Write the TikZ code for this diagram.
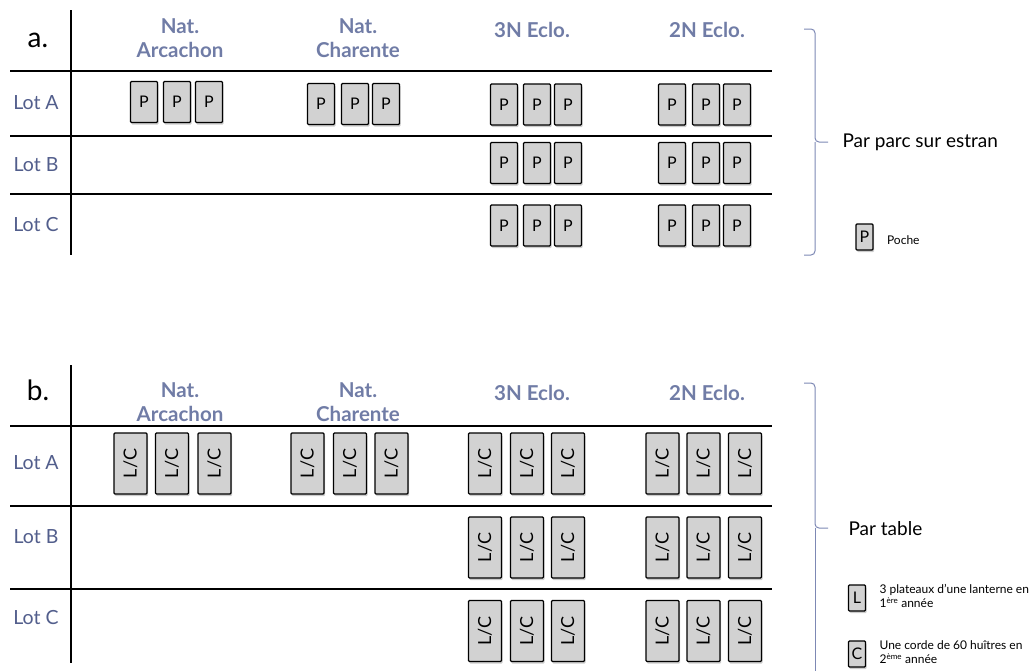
\documentclass[tikz,border=0pt]{standalone}
\usepackage{fontspec}
\setmainfont{Lato}
\usepackage{xcolor}
\usetikzlibrary{positioning, shadows}
\definecolor{slate}{RGB}{112,124,166}
\definecolor{lotblue}{RGB}{82,94,140}
\definecolor{bracecol}{RGB}{125,136,180}

\begin{document}
\begin{tikzpicture}[
    x=1pt, y=-1pt,
    head/.style={font=\fontsize{20.5}{24}\selectfont\bfseries, text=slate, align=center},
    lot/.style={font=\fontsize{19.5}{21}\selectfont, text=lotblue},
    panel/.style={font=\fontsize{28}{30}\selectfont},
    grid/.style={line width=1.2pt},
    poche/.style={draw, fill=gray!35, line width=1.1pt, rounded corners=1pt,
      inner sep=0pt, minimum width=27pt, minimum height=41pt,
      font=\fontsize{16}{16}\selectfont,
      drop shadow={shadow xshift=1pt, shadow yshift=-2pt, opacity=0.4}},
    lc/.style={poche, minimum width=33pt, minimum height=61pt, font=\fontsize{18}{18}\selectfont},
    brace/.style={draw=bracecol, line width=1pt, rounded corners=4pt},
    note/.style={font=\fontsize{19}{21}\selectfont, anchor=west},
    legend/.style={font=\fontsize{12}{14}\selectfont, align=left}
]
\useasboundingbox (0,0) rectangle (1030,670);

% a. par parc sur estran
\node[panel] (a-label) at (38,40) {a.};
\draw[grid] (71,10) -- (71,255);
\foreach \y in {71,136,194} \draw[grid] (10,\y) -- (772,\y);
\node[head] (a-arc) at (180,38) {Nat.\\Arcachon};
\node[head] (a-cha) at (358,38) {Nat.\\Charente};
\node[head] (a-3n) at (532,30) {3N Eclo.};
\node[head] (a-2n) at (707,30) {2N Eclo.};
\node[lot] (a-lotA) at (36,103) {Lot A};
\node[lot] (a-lotB) at (36,165) {Lot B};
\node[lot] (a-lotC) at (36,225) {Lot C};
\foreach \x [count=\i] in {144,177,209} \node[poche] (a-arc-\i) at (\x,102) {P};
\foreach \x [count=\i] in {321,355,386} \node[poche] (a-cha-\i) at (\x,104) {P};
\foreach \r/\y in {A/104.5,B/163,C/225.5} {
  \foreach \x [count=\i] in {504,537,568} \node[poche] (a-3n-\r\i) at (\x,\y) {P};
  \foreach \x [count=\i] in {672,706,737} \node[poche] (a-2n-\r\i) at (\x,\y) {P};
}
\draw[brace] (804,29) -| (815,142) -- (828,142);
\draw[brace] (815,142) |- (804,255);
\node[note] (a-note) at (839,142) {Par parc sur estran};
\node[poche, minimum width=17pt, minimum height=26pt] (a-key) at (864.5,237) {P};
\node[legend, right=10pt of a-key, yshift=-3pt] (a-key-txt) {Poche};

% b. par table
\node[panel] (b-label) at (38,390) {b.};
\draw[grid] (71,365) -- (71,663);
\foreach \y in {426,506,589} \draw[grid] (10,\y) -- (772,\y);
\node[head] (b-arc) at (180,402) {Nat.\\Arcachon};
\node[head] (b-cha) at (358,402) {Nat.\\Charente};
\node[head] (b-3n) at (532,393) {3N Eclo.};
\node[head] (b-2n) at (707,393) {2N Eclo.};
\node[lot] (b-lotA) at (36,463) {Lot A};
\node[lot] (b-lotB) at (36,537) {Lot B};
\node[lot] (b-lotC) at (36,618) {Lot C};
\foreach \x [count=\i] in {130.5,172,214.5} \node[lc] (b-arc-\i) at (\x,463.5) {\rotatebox{90}{L/C}};
\foreach \x [count=\i] in {307.5,350,391.5} \node[lc] (b-cha-\i) at (\x,463.5) {\rotatebox{90}{L/C}};
\foreach \r/\y in {A/463.5,B/547.5,C/631} {
  \foreach \x [count=\i] in {485,527,568} \node[lc] (b-3n-\r\i) at (\x,\y) {\rotatebox{90}{L/C}};
  \foreach \x [count=\i] in {662.5,703.5,745} \node[lc] (b-2n-\r\i) at (\x,\y) {\rotatebox{90}{L/C}};
}
\draw[brace] (804,383) -| (815,528) -- (828,528);
\draw[brace] (815,528) -- (815,680);
\node[note] (b-note) at (845,529) {Par table};
\node[poche, minimum width=17pt, minimum height=26pt] (b-keyL) at (857,598) {L};
\node[legend, right=10pt of b-keyL, yshift=2pt] (b-keyL-txt) {3 plateaux d'une lanterne en\\1\textsuperscript{ère} année};
\node[poche, minimum width=17pt, minimum height=26pt] (b-keyC) at (857,654) {C};
\node[legend, right=10pt of b-keyC, yshift=2pt] (b-keyC-txt) {Une corde de 60 huîtres en\\2\textsuperscript{ème} année};
\end{tikzpicture}
\end{document}
